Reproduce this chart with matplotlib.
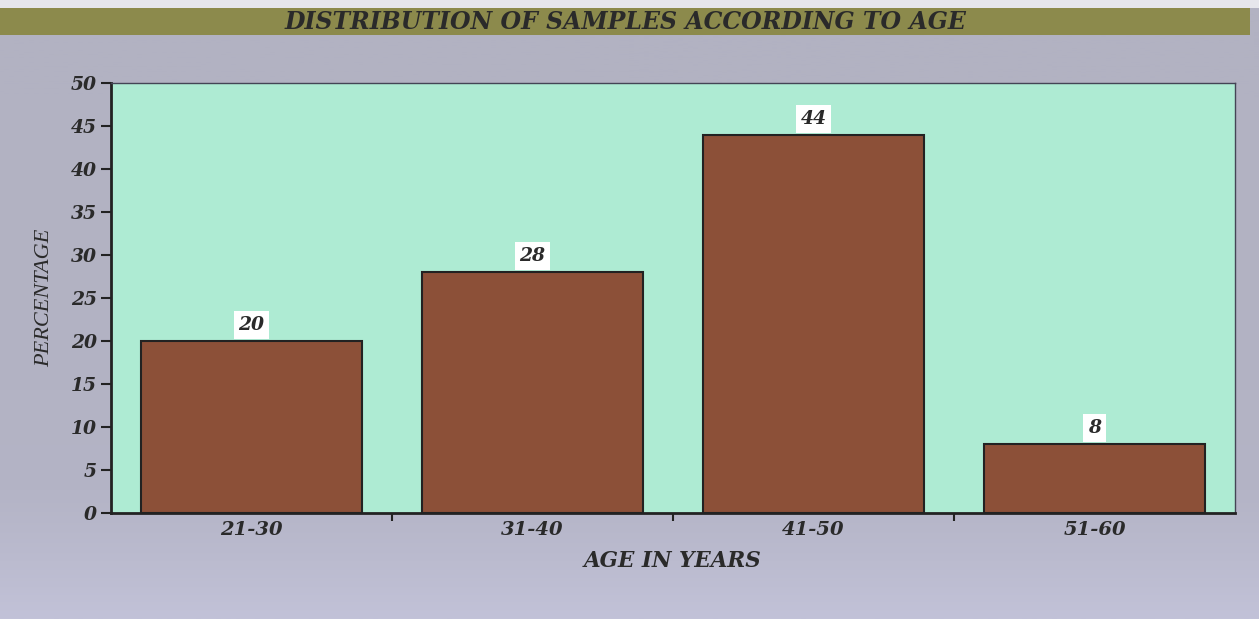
import numpy as np
import matplotlib.pyplot as plt
from matplotlib.patches import Rectangle
from matplotlib.colors import LinearSegmentedColormap

age_groups = ['21-30', '31-40', '41-50', '51-60']
percentages = [20, 28, 44, 8]
y_ticks = [0, 5, 10, 15, 20, 25, 30, 35, 40, 45, 50]

label_font = dict(family='DejaVu Serif', style='italic', weight='bold', color='#2a2a2a')

fig = plt.figure(figsize=(12.59, 6.19), dpi=100)
fig.patch.set_facecolor('#b3b3c4')

# Background: slight vertical gradient, lighter toward the bottom.
bg = fig.add_axes([0, 0, 1, 1], zorder=-10)
bg.axis('off')
grad = np.linspace(0, 1, 256).reshape(-1, 1)
bg_cmap = LinearSegmentedColormap.from_list('bg', ['#b2b2c2', '#b4b4c6', '#c2c2d8'])
bg.imshow(grad ** 3, aspect='auto', cmap=bg_cmap, extent=[0, 1, 1, 0])
bg.set_xlim(0, 1)
bg.set_ylim(1, 0)

# Title band across the top.
fig.patches.append(Rectangle((0, 1 - 35 / 619), 1250 / 1259, 27 / 619, transform=fig.transFigure,
                             facecolor='#8c8a4c', edgecolor='none', zorder=0))
fig.patches.append(Rectangle((0, 1 - 8 / 619), 1, 8 / 619, transform=fig.transFigure,
                             facecolor='#e6e6ec', edgecolor='none', zorder=0))
fig.text(626 / 1259, 1 - 22 / 619, 'DISTRIBUTION OF SAMPLES ACCORDING TO AGE', ha='center', va='center',
         fontsize=17, **label_font)

ax = fig.add_axes([111 / 1259, 106 / 619, 1124 / 1259, 430 / 619])
ax.set_facecolor('#aeebd3')

x = np.arange(len(age_groups))
ax.bar(x, percentages, width=0.79, color='#8c5038', edgecolor='#222222', linewidth=1.5, zorder=2)

for xi, v in zip(x, percentages):
    ax.annotate(str(v), (xi, v), xytext=(0, 5), textcoords='offset points', ha='center', va='bottom',
                fontsize=13.5, zorder=3, bbox=dict(facecolor='white', edgecolor='none', pad=3.5),
                **label_font)

ax.set_xlim(-0.5, 3.5)
ax.set_ylim(0, 50)
ax.set_yticks(y_ticks)
ax.set_yticklabels([str(t) for t in y_ticks], fontsize=13.5, **label_font)
ax.set_xticks(x)
ax.set_xticklabels(age_groups, fontsize=14, **label_font)
ax.tick_params(axis='x', length=0, pad=6)
ax.set_xticks(x[:-1] + 0.5, minor=True)
ax.tick_params(axis='x', which='minor', length=6, width=1.5, color='#222222')
ax.tick_params(axis='y', length=7, width=1.5, color='#222222', pad=3)

for s in ['left', 'bottom']:
    ax.spines[s].set_linewidth(2)
    ax.spines[s].set_color('#222222')
for s in ['top', 'right']:
    ax.spines[s].set_linewidth(1)
    ax.spines[s].set_color('#444455')

ax.set_xlabel('AGE IN YEARS', fontsize=15.5, labelpad=8, **label_font)
ax.set_ylabel('PERCENTAGE', family='Liberation Serif', style='italic', fontsize=16,
              color='#2a2a2a', labelpad=12)

fig.savefig('out.png', dpi=100, facecolor=fig.get_facecolor())
